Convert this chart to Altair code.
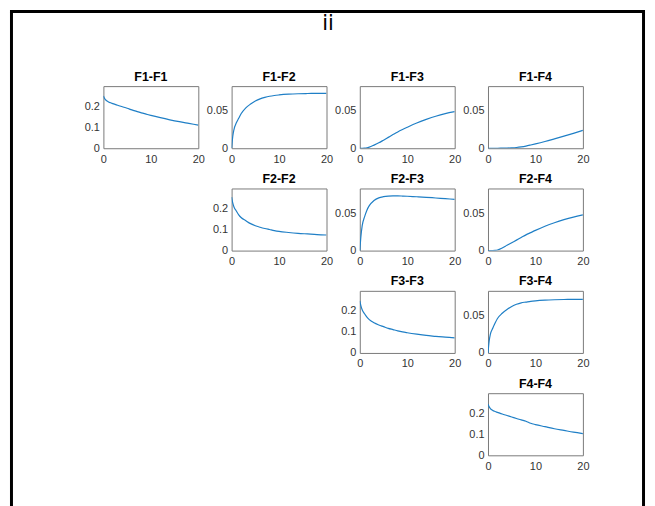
import altair as alt
import pandas as pd

# time grid shared by every panel
t = [0, 0.25, 0.5, 1, 1.5, 2, 3, 4, 5, 6, 7, 8, 9, 10, 12, 14, 16, 18, 20]

f1_f1 = [0.248, 0.236, 0.229, 0.221, 0.216, 0.212, 0.204, 0.197, 0.190, 0.182, 0.175, 0.168, 0.162, 0.156, 0.145, 0.135, 0.126, 0.118, 0.110]
f1_f2 = [0.0, 0.016, 0.025, 0.034, 0.040, 0.046, 0.054, 0.059, 0.063, 0.066, 0.068, 0.0695, 0.0705, 0.0712, 0.0722, 0.0728, 0.0731, 0.0733, 0.0734]
f1_f3 = [0.0, 0.0, 0.0, 0.0002, 0.0006, 0.0015, 0.0042, 0.0072, 0.0108, 0.0145, 0.0182, 0.0218, 0.0250, 0.0280, 0.0337, 0.0385, 0.0428, 0.0463, 0.0490]
f1_f4 = [0.0, 0.0, 0.0, 0.0, 0.0, 0.0, 0.0001, 0.0002, 0.0005, 0.0010, 0.0018, 0.0029, 0.0043, 0.0058, 0.0090, 0.0125, 0.0161, 0.0199, 0.0238]
f2_f2 = [0.254, 0.225, 0.207, 0.188, 0.170, 0.157, 0.142, 0.128, 0.118, 0.111, 0.105, 0.100, 0.095, 0.091, 0.086, 0.082, 0.079, 0.076, 0.074]
f2_f3 = [0.0, 0.020, 0.033, 0.045, 0.054, 0.060, 0.067, 0.0705, 0.0720, 0.0728, 0.0731, 0.0731, 0.0729, 0.0726, 0.0719, 0.0712, 0.0703, 0.0694, 0.0685]
f2_f4 = [0.0, 0.0, 0.0, 0.0, 0.0002, 0.0008, 0.0035, 0.0070, 0.0105, 0.0140, 0.0175, 0.0210, 0.0240, 0.0270, 0.0325, 0.0372, 0.0413, 0.0448, 0.0478]
f3_f3 = [0.247, 0.222, 0.205, 0.186, 0.170, 0.158, 0.143, 0.133, 0.125, 0.117, 0.111, 0.105, 0.100, 0.096, 0.089, 0.083, 0.079, 0.075, 0.072]
f3_f4 = [0.0, 0.016, 0.025, 0.033, 0.040, 0.046, 0.053, 0.058, 0.062, 0.065, 0.067, 0.068, 0.069, 0.0697, 0.0706, 0.0711, 0.0714, 0.0716, 0.0717]
f4_f4 = [0.242, 0.230, 0.222, 0.213, 0.208, 0.204, 0.196, 0.189, 0.182, 0.175, 0.168, 0.162, 0.152, 0.146, 0.136, 0.126, 0.118, 0.110, 0.103]

# grid layout: (title, values, kind) ; None = empty cell
grid = [
    [("F1-F1", f1_f1, "auto"), ("F1-F2", f1_f2, "cross"), ("F1-F3", f1_f3, "cross"), ("F1-F4", f1_f4, "cross")],
    [None, ("F2-F2", f2_f2, "auto"), ("F2-F3", f2_f3, "cross"), ("F2-F4", f2_f4, "cross")],
    [None, None, ("F3-F3", f3_f3, "auto"), ("F3-F4", f3_f4, "cross")],
    [None, None, None, ("F4-F4", f4_f4, "auto")],
]

x_ticks = [0, 10, 20]
auto_ticks = [0, 0.1, 0.2]
cross_ticks = [0, 0.05]
auto_max = 0.295
cross_max = 0.083

W, H = 95.5, 62.5
LINE = "#1f7fc6"
FONT = "Liberation Sans"


def panel(name, vals, kind):
    df = pd.DataFrame({"t": t, "v": vals})
    ymax = auto_max if kind == "auto" else cross_max
    yt = auto_ticks if kind == "auto" else cross_ticks
    return alt.Chart(df).mark_line(color=LINE, strokeWidth=1.2, clip=True, interpolate="monotone").encode(
        x=alt.X("t:Q", scale=alt.Scale(domain=[0, 20], nice=False, zero=False),
                axis=alt.Axis(values=x_ticks, format="d", title=None)),
        y=alt.Y("v:Q", scale=alt.Scale(domain=[0, ymax], nice=False),
                axis=alt.Axis(values=yt, format="~g", title=None)),
    ).properties(width=W, height=H, title=name)


def empty():
    df = pd.DataFrame({"t": [0], "v": [0]})
    return alt.Chart(df).mark_point(opacity=0).encode(
        x=alt.X("t:Q", axis=None), y=alt.Y("v:Q", axis=None)
    )


# figure frame and main title, drawn from the (untitled) cell below F1-F1
one = pd.DataFrame({"k": [0]})
frame_left = alt.Chart(one).mark_rule(color="black", strokeWidth=3).encode(
    x=alt.value(-92.5), y=alt.value(-178), y2=alt.value(330))
frame_top = alt.Chart(one).mark_rule(color="black", strokeWidth=3).encode(
    x=alt.value(-94), x2=alt.value(545), y=alt.value(-178))
frame_right = alt.Chart(one).mark_rule(color="black", strokeWidth=3).encode(
    x=alt.value(543.5), y=alt.value(-178), y2=alt.value(330))
main_title = alt.Chart(one).mark_text(
    text="ii", font="DejaVu Sans", fontSize=21, color="black", align="center", baseline="alphabetic"
).encode(x=alt.value(226), y=alt.value(-159))

cells = []
for r, row in enumerate(grid):
    for c, item in enumerate(row):
        if item is None:
            e = empty()
            if r == 1 and c == 0:
                e = alt.layer(frame_left, frame_top, frame_right, main_title, e)
            cells.append(e.properties(width=W, height=H, view=alt.ViewBackground(stroke="transparent")))
        else:
            cells.append(panel(*item))

chart = alt.concat(
    *cells, columns=4, spacing={"row": 40, "column": 33}, bounds="flush"
).properties(padding=0).configure_view(
    stroke="#7a7a7a", strokeWidth=1
).configure_axis(
    grid=False, domain=False, ticks=False, tickSize=0,
    labelFont=FONT, labelFontSize=11, labelColor="#333333",
    labelFlush=False, labelOverlap=False,
).configure_axisX(labelPadding=5).configure_axisY(labelPadding=4).configure_title(
    font=FONT, fontSize=12.5, fontWeight="bold", color="black", anchor="middle", offset=3
)

chart.save("out.html", embed_options={"renderer": "svg", "actions": False})
